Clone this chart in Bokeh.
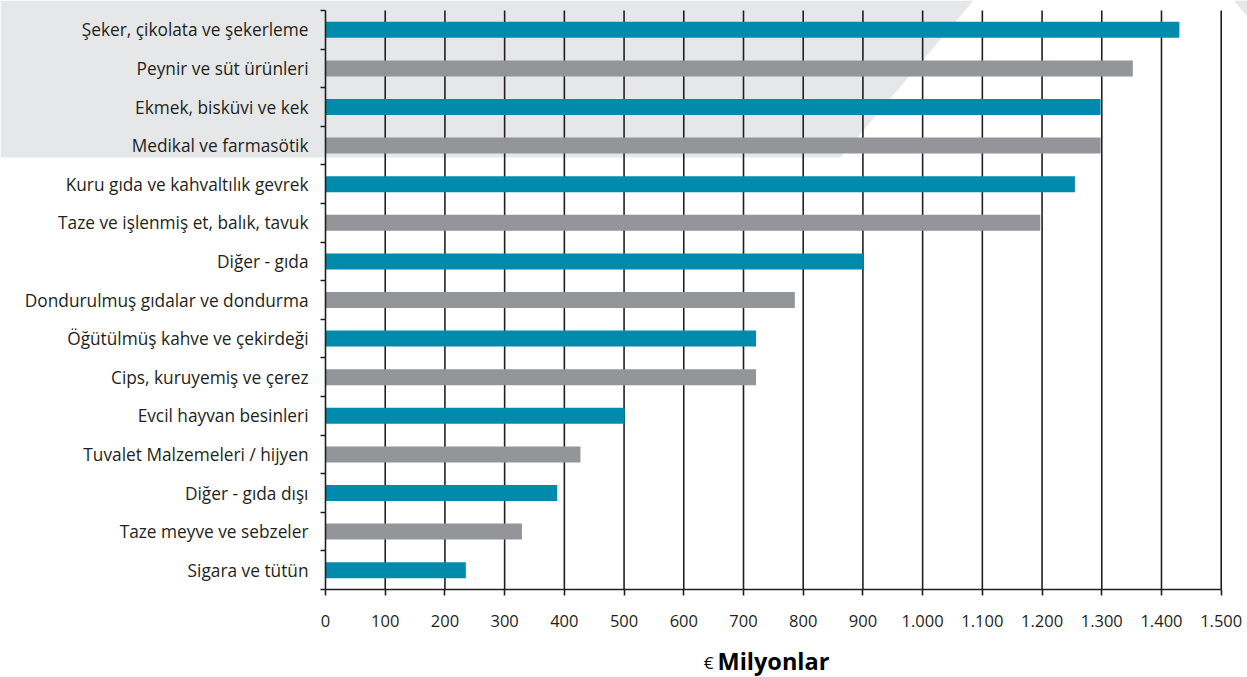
from bokeh.plotting import figure
from bokeh.models import (Range1d, LinearAxis, FixedTicker, PolyAnnotation, Label, ColumnDataSource)
from bokeh.embed import file_html
from bokeh.resources import INLINE

categories = [
    "Şeker, çikolata ve şekerleme",
    "Peynir ve süt ürünleri",
    "Ekmek, bisküvi ve kek",
    "Medikal ve farmasötik",
    "Kuru gıda ve kahvaltılık gevrek",
    "Taze ve işlenmiş et, balık, tavuk",
    "Diğer - gıda",
    "Dondurulmuş gıdalar ve dondurma",
    "Öğütülmüş kahve ve çekirdeği",
    "Cips, kuruyemiş ve çerez",
    "Evcil hayvan besinleri",
    "Tuvalet Malzemeleri / hijyen",
    "Diğer - gıda dışı",
    "Taze meyve ve sebzeler",
    "Sigara ve tütün",
]
values = [1430, 1352, 1298, 1298, 1255, 1197, 900, 786, 721, 721, 501, 427, 388, 329, 235]
tick_values = [0, 100, 200, 300, 400, 500, 600, 700, 800, 900, 1000, 1100, 1200, 1300, 1400, 1500]
tick_labels = ["0", "100", "200", "300", "400", "500", "600", "700", "800", "900",
               "1.000", "1.100", "1.200", "1.300", "1.400", "1.500"]
axis_title_symbol = "€"
axis_title = "Milyonlar"

TEAL = "#008bad"
GRAY = "#939598"
INK = "#231f20"
FONT = "Open Sans"

n = len(categories)
ys = list(range(n))
colors = [TEAL if i % 2 == 0 else GRAY for i in ys]
boundaries = [i - 0.5 for i in range(n + 1)]

W, H = 1247, 677
x0_px, x1500_px = 325, 1220.7
scale = (x1500_px - x0_px) / 1500.0
top_px, bottom_px = 10, 589
unit_px = (bottom_px - top_px) / n

p = figure(width=W, height=H, output_backend="svg", toolbar_location=None,
           x_range=Range1d(-x0_px / scale, (W - x0_px) / scale),
           y_range=Range1d(n - 0.5 + (H - bottom_px) / unit_px, -0.5 - top_px / unit_px),
           x_axis_location=None, y_axis_location=None,
           min_border=0)
p.outline_line_color = None
p.background_fill_color = "white"
p.border_fill_color = "white"
p.grid.visible = False

# background decoration shapes
p.add_layout(PolyAnnotation(xs=[0, 973, 840, 0], ys=[0, 0, 157, 157], xs_units="canvas", ys_units="canvas",
                            fill_color="#e6e7e8", fill_alpha=1, line_color=None, level="underlay"))
p.add_layout(PolyAnnotation(xs=[1233, 1247, 1247], ys=[0, 0, 16], xs_units="canvas", ys_units="canvas",
                            fill_color="#e6e7e8", fill_alpha=1, line_color=None, level="underlay"))

# vertical grid lines
gx = tick_values[1:]
p.segment(x0=gx, x1=gx, y0=[boundaries[0]] * len(gx), y1=[boundaries[-1]] * len(gx),
          line_color=INK, line_width=1.6)

src = ColumnDataSource(dict(y=ys, v=values, c=colors, cat=categories))
p.hbar(y="y", left=0, right="v", height=0.415, fill_color="c", line_color=None, source=src)

# x axis (fixed at the bottom category boundary)
xa = LinearAxis(fixed_location=boundaries[-1], ticker=FixedTicker(ticks=tick_values),
                major_label_overrides={v: l for v, l in zip(tick_values, tick_labels)},
                bounds=(tick_values[0], tick_values[-1]),
                axis_line_color=INK, axis_line_width=1.6,
                major_tick_line_color=INK, major_tick_line_width=1.6, major_tick_out=6, major_tick_in=0,
                minor_tick_line_color=None, major_label_standoff=19,
                major_label_text_font=FONT, major_label_text_font_size="16.5px",
                major_label_text_color=INK)
p.add_layout(xa, "below")

# y axis: labels at category centres, ticks at category boundaries
ya = LinearAxis(fixed_location=0, ticker=FixedTicker(ticks=ys, minor_ticks=boundaries),
                major_label_overrides={i: c for i, c in zip(ys, categories)},
                bounds=(boundaries[0], boundaries[-1]),
                axis_line_color=INK, axis_line_width=1.6,
                major_tick_line_color=None, major_tick_out=0, major_tick_in=0,
                minor_tick_line_color=INK, minor_tick_line_width=1.6, minor_tick_out=5, minor_tick_in=0,
                major_label_standoff=12,
                major_label_text_font=FONT, major_label_text_font_size="17.3px",
                major_label_text_color=INK)
p.add_layout(ya, "left")

p.add_layout(Label(x=713, y=662, x_units="canvas", y_units="canvas", text=axis_title_symbol,
                   text_align="right", text_baseline="middle", text_font=FONT,
                   text_font_size="17px", text_color="black"))
p.add_layout(Label(x=717, y=660, x_units="canvas", y_units="canvas", text=axis_title,
                   text_align="left", text_baseline="middle", text_font=FONT,
                   text_font_size="23.5px", text_font_style="bold", text_color="black"))

open("out.html", "w").write(file_html(p, INLINE))
